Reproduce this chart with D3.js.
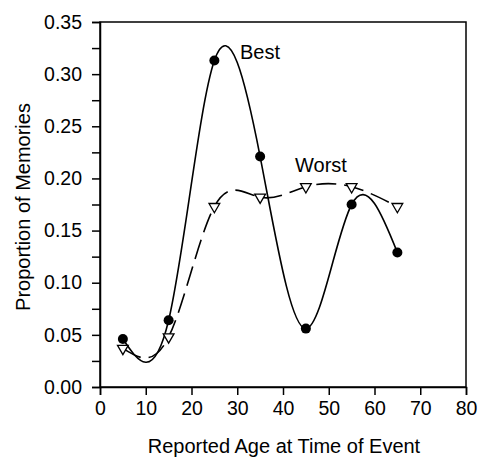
<!DOCTYPE html>
<html><head><meta charset="utf-8">
<script src="https://cdn.jsdelivr.net/npm/d3@7"></script>
<style>body{margin:0;background:#fff}svg{display:block}text{font-family:"Liberation Sans",Arial,sans-serif;fill:#000}</style>
</head><body>
<script>
const ages = [5, 15, 25, 35, 45, 55, 65];
const best = [0.046, 0.064, 0.313, 0.221, 0.056, 0.175, 0.129];
const worst = [0.037, 0.048, 0.173, 0.182, 0.192, 0.192, 0.173];
const xTicks = [0, 10, 20, 30, 40, 50, 60, 70, 80];
const yTicks = [0, 0.05, 0.10, 0.15, 0.20, 0.25, 0.30, 0.35];
const yMinor = [0.025, 0.075, 0.125, 0.175, 0.225, 0.275, 0.325];

const W = 481, H = 458;
const svg = d3.select("body").append("svg").attr("width", W).attr("height", H);
const x = d3.scaleLinear().domain([0, 80]).range([100, 466]);
const y = d3.scaleLinear().domain([0, 0.35]).range([387, 22]);

// frame
svg.append("rect").attr("x", 100).attr("y", 22).attr("width", 366).attr("height", 365)
  .attr("fill", "none").attr("stroke", "#000").attr("stroke-width", 1.5);

const xAxis = svg.append("g").attr("transform", "translate(0,387)")
  .call(d3.axisBottom(x).tickValues(xTicks).tickFormat(d3.format("d")).tickSize(8).tickPadding(6));
const yAxis = svg.append("g").attr("transform", "translate(100,0)")
  .call(d3.axisLeft(y).tickValues(yTicks).tickFormat(d3.format(".2f")).tickSize(8).tickPadding(10));
svg.append("g").attr("transform", "translate(100,0)")
  .call(d3.axisLeft(y).tickValues(yMinor).tickFormat("").tickSize(8))
  .select(".domain").remove();
svg.selectAll(".domain").attr("stroke-width", 1.5);
svg.selectAll(".tick line").attr("stroke-width", 1.5);
svg.selectAll(".tick text").style("font-size", "19.5px").attr("font-family", "Liberation Sans, Arial, sans-serif");

const line = d3.line().x((d, i) => x(ages[i])).y(d => y(d)).curve(d3.curveNatural);
svg.append("path").attr("d", line(best)).attr("fill", "none").attr("stroke", "#000").attr("stroke-width", 1.6);
svg.append("path").attr("d", line(worst)).attr("fill", "none").attr("stroke", "#000").attr("stroke-width", 1.6)
  .attr("stroke-dasharray", "20,8");

svg.selectAll(".bdot").data(best).enter().append("circle")
  .attr("cx", (d, i) => x(ages[i])).attr("cy", d => y(d)).attr("r", 5).attr("fill", "#000");
const tri = d3.symbol().type(d3.symbolTriangle).size(50);
svg.selectAll(".wtri").data(worst).enter().append("path")
  .attr("d", tri)
  .attr("transform", (d, i) => `translate(${x(ages[i])},${y(d)}) rotate(180)`)
  .attr("fill", "#fff").attr("stroke", "#000").attr("stroke-width", 1.3);

svg.append("text").attr("x", 240).attr("y", 59).style("font-size", "20px").text("Best");
svg.append("text").attr("x", 295).attr("y", 172).style("font-size", "20px").text("Worst");

svg.append("text").attr("x", 284).attr("y", 453).attr("text-anchor", "middle").style("font-size", "20px")
  .text("Reported Age at Time of Event");
svg.append("text").attr("transform", "translate(30,207) rotate(-90)").attr("text-anchor", "middle")
  .style("font-size", "20px").text("Proportion of Memories");
</script>
</body></html>
